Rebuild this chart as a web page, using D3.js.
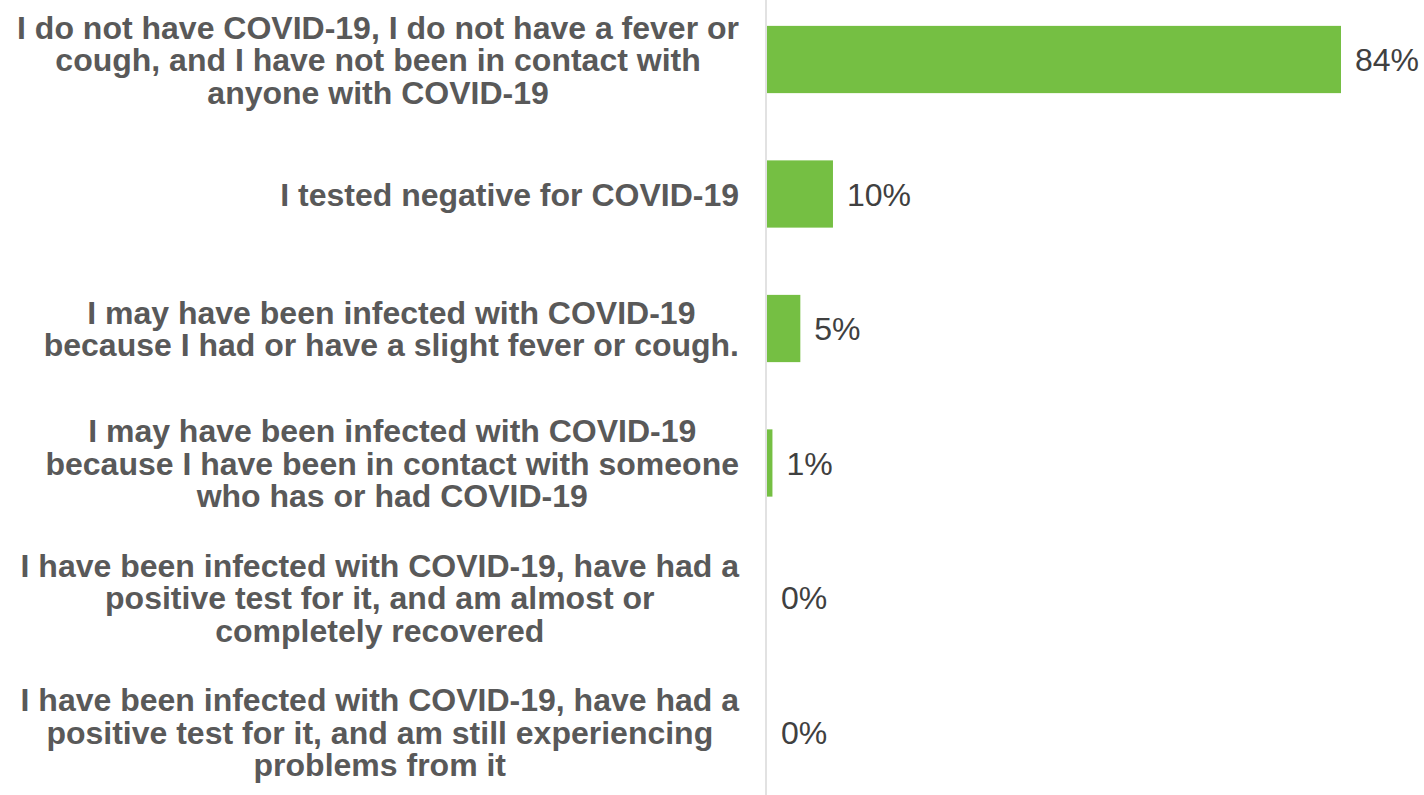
<!DOCTYPE html>
<html>
<head>
<meta charset="utf-8">
<script src="https://cdn.jsdelivr.net/npm/d3@7/dist/d3.min.js"></script>
<style>
  html, body { margin: 0; padding: 0; background: #fff; }
  svg { display: block; }
</style>
</head>
<body>
<svg id="chart" width="1424" height="795"></svg>
<script>
const categories = [
  "I do not have COVID-19, I do not have a fever or\ncough, and I have not been in contact with\nanyone with COVID-19",
  "I tested negative for COVID-19",
  "I may have been infected with COVID-19\nbecause I had or have a slight fever or cough.",
  "I may have been infected with COVID-19\nbecause I have been in contact with someone\nwho has or had COVID-19",
  "I have been infected with COVID-19, have had a\npositive test for it, and am almost or\ncompletely recovered",
  "I have been infected with COVID-19, have had a\npositive test for it, and am still experiencing\nproblems from it"
];
const values = [84.4, 9.7, 4.9, 0.8, 0, 0];
const valueLabels = ["84%", "10%", "5%", "1%", "0%", "0%"];

const W = 1424, H = 795;
const svg = d3.select("#chart");

const x = d3.scaleLinear().domain([0, 84.4]).range([767, 1341]);
const y = d3.scaleBand()
  .domain(categories.map((d, i) => i))
  .range([-7.75, 799.25])
  .paddingInner(0.5)
  .paddingOuter(0.25);

// bars
svg.append("g").selectAll("rect")
  .data(values)
  .join("rect")
  .attr("x", x(0))
  .attr("y", (d, i) => y(i))
  .attr("width", d => Math.max(0, x(d) - x(0)))
  .attr("height", y.bandwidth())
  .attr("fill", "#75bf43");

// vertical axis line
svg.append("line")
  .attr("x1", 766).attr("x2", 766)
  .attr("y1", 0).attr("y2", H)
  .attr("stroke", "#d9d9d9")
  .attr("stroke-width", 1.5);

// value labels
svg.append("g").selectAll("text")
  .data(values)
  .join("text")
  .attr("x", d => x(d) + 14)
  .attr("y", (d, i) => y(i) + y.bandwidth() / 2)
  .attr("dy", "0.36em")
  .attr("font-family", "Liberation Sans, Arial, sans-serif")
  .attr("font-size", 32)
  .attr("fill", "#404040")
  .text((d, i) => valueLabels[i]);

// category labels: block right-aligned, lines centered within block
const lineH = 32.5;
const rightEdge = 739;
const lg = svg.append("g");
categories.forEach((c, i) => {
  const lines = c.split("\n");
  const cy = y(i) + y.bandwidth() / 2;
  const t = lg.append("text")
    .attr("font-family", "Liberation Sans, Arial, sans-serif")
    .attr("font-size", 32)
    .attr("font-weight", "bold")
    .attr("fill", "#595959")
    .attr("text-anchor", "middle");
  const tspans = lines.map((ln, k) => t.append("tspan")
    .attr("y", cy + (k - (lines.length - 1) / 2) * lineH)
    .attr("dy", "0.36em")
    .text(ln));
  let maxW = 0;
  tspans.forEach(ts => { maxW = Math.max(maxW, ts.node().getComputedTextLength()); });
  const cx = rightEdge - maxW / 2;
  tspans.forEach(ts => ts.attr("x", cx));
});
</script>
</body>
</html>
